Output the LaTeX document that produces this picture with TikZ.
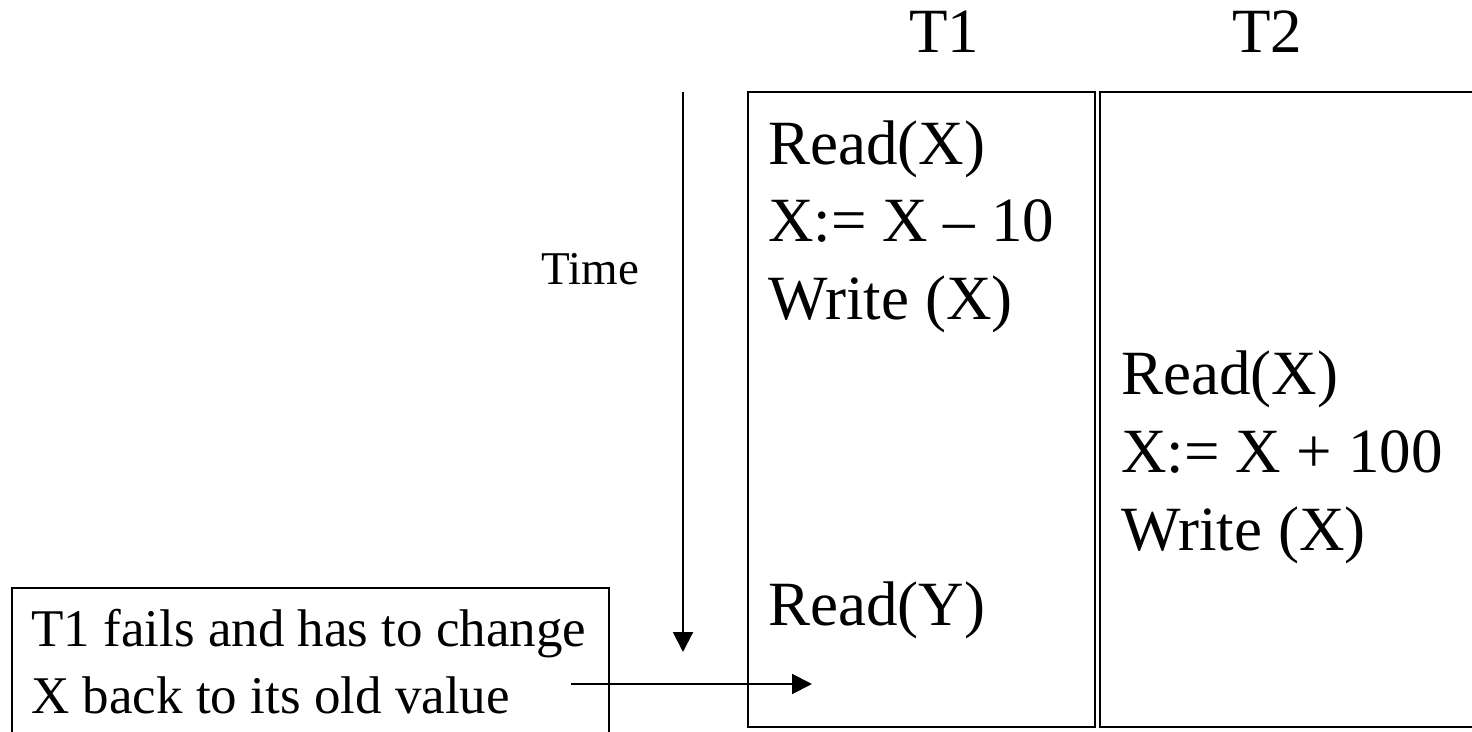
\documentclass[tikz,border=0pt]{standalone}
\usepackage{fontspec}
\setmainfont{Liberation Serif}
\usetikzlibrary{arrows.meta}
\begin{document}
\begin{tikzpicture}[x=0.5pt, y=-0.5pt,
  frame/.style={draw=black, line width=1.1pt, inner sep=0pt, outer sep=0pt,
                anchor=north west},
  head/.style={inner sep=0pt, anchor=base west, font=\fontsize{31.5}{38}\selectfont},
  code/.style={inner sep=0pt, anchor=base west, font=\fontsize{31.5}{38}\selectfont},
  note/.style={inner sep=0pt, anchor=base west, font=\fontsize{26.5}{32}\selectfont},
  axis/.style={inner sep=0pt, anchor=base west, font=\fontsize{23.5}{28}\selectfont},
  flow/.style={line width=1pt, -{Triangle[length=10pt, width=10pt]}}]
\useasboundingbox (0,0) rectangle (1472,732);

% transaction columns
\node[frame, minimum width=173.5pt, minimum height=317.5pt] (colA) at (748,92) {};
\node[frame, minimum width=190pt, minimum height=317.5pt] (colB) at (1100,92) {};

% column headings
\node[head] (hA) at (909,53) {T1};
\node[head] (hB) at (1232,53) {T2};

% operations of T1
\node[code] (a1) at (768,165) {Read(X)};
\node[code] (a2) at (768,242) {X:= X – 10};
\node[code] (a3) at (768,320) {Write (X)};
\node[code] (a4) at (768,625) {Read(Y)};

% operations of T2
\node[code] (b1) at (1121,395) {Read(X)};
\node[code] (b2) at (1121,473) {X:= X + 100};
\node[code] (b3) at (1121,550) {Write (X)};

% time axis
\coordinate (tstart) at (683,92);
\coordinate (tend) at (683,652);
\draw[flow] (tstart) -- (tend);
\node[axis] (time) at (541,285) {Time};

% failure note
\node[frame, minimum width=298.5pt, minimum height=80pt] (fail) at (12,588) {};
\node[note] (f1) at (31,646) {T1 fails and has to change};
\node[note] (f2) at (31,713) {X back to its old value};
\coordinate (ffrom) at (571,684);
\coordinate (fto) at (812,684);
\draw[flow] (ffrom) -- (fto);
\end{tikzpicture}
\end{document}
